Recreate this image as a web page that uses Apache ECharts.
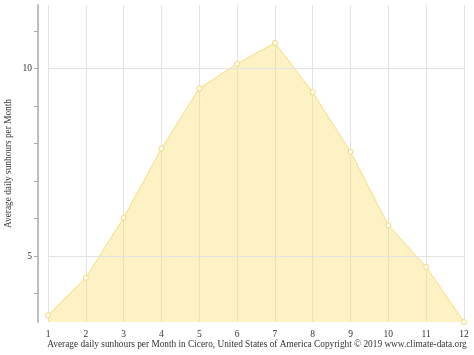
<!DOCTYPE html>
<html>
<head>
<meta charset="utf-8">
<script src="https://cdn.jsdelivr.net/npm/echarts@6/dist/echarts.min.js"></script>
<style>
  html, body { margin: 0; padding: 0; background: #fff; }
  #chart { width: 474px; height: 355px; }
</style>
</head>
<body>
<div id="chart"></div>
<script>
  // months and sunhours
  var months = ['1', '2', '3', '4', '5', '6', '7', '8', '9', '10', '11', '12']
  var sunhours = [3.42, 4.42, 6.02, 7.87, 9.47, 10.13, 10.69, 9.37, 7.78, 5.82, 4.71, 3.24]
  var yTicks = [4, 5, 6, 7, 8, 9, 10, 11]
  var yLabels = [5, 10]
  var yGrid = [5, 10]

  var font = '"Liberation Serif", "DejaVu Serif", serif'
  var chart = echarts.init(document.getElementById('chart'))
  var option = {
    backgroundColor: '#fff',
    animation: false,
    title: {
      text: 'Average daily sunhours per Month in Cicero, United States of America Copyright © 2019 www.climate-data.org',
      left: 252,
      textAlign: 'center',
      bottom: 1,
      textStyle: {
        color: '#333',
        fontFamily: font,
        fontWeight: 'normal',
        fontSize: 9.3
      }
    },
    grid: {
      left: 48,
      right: 10,
      top: 5,
      bottom: 33,
      containLabel: false,
      outerBoundsMode: 'none'
    },
    xAxis: {
      type: 'category',
      data: months,
      boundaryGap: false,
      axisLine: { show: false },
      axisTick: { show: false },
      axisLabel: {
        margin: 7,
        color: '#333',
        fontFamily: font,
        fontSize: 9.5
      },
      splitLine: {
        show: true,
        lineStyle: { color: '#e3e3e3', width: 1 }
      }
    },
    yAxis: {
      type: 'value',
      min: 3.24,
      max: 11.7,
      offset: 10,
      name: 'Average daily sunhours per Month',
      nameLocation: 'middle',
      nameGap: 25,
      nameMoveOverlap: false,
      nameTextStyle: {
        color: '#333',
        fontFamily: font,
        fontSize: 9.3
      },
      axisLine: {
        show: true,
        lineStyle: { color: '#bdbdbd', width: 2 }
      },
      axisTick: {
        show: true,
        length: 4,
        customValues: yTicks,
        lineStyle: { color: '#aaa', width: 1 }
      },
      axisLabel: {
        customValues: yLabels,
        margin: 6,
        color: '#333',
        fontFamily: font,
        fontSize: 9.5
      },
      splitLine: { show: false }
    },
    series: [
      {
        type: 'line',
        data: sunhours,
        symbol: 'circle',
        symbolSize: 5,
        itemStyle: {
          color: '#fff',
          borderColor: '#f3d874',
          borderWidth: 1
        },
        lineStyle: { color: '#f5dc80', width: 1 },
        areaStyle: { color: 'rgba(248, 220, 100, 0.55)' },
        markLine: {
          silent: true,
          symbol: 'none',
          label: { show: false },
          lineStyle: { color: '#e3e3e3', width: 1, type: 'solid' },
          data: yGrid.map(function (v) { return { yAxis: v } })
        }
      }
    ]
  }
  chart.setOption(option)
</script>
</body>
</html>
